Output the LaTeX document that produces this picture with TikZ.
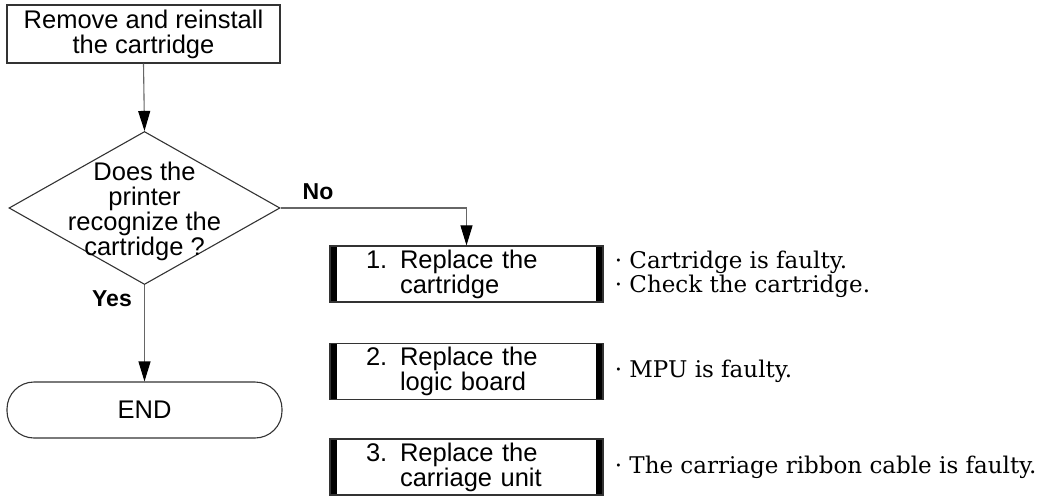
\documentclass[tikz,border=0pt]{standalone}
\usepackage{fontspec}
\setmainfont{DejaVu Serif}
\setsansfont{Liberation Sans}
\usetikzlibrary{arrows.meta, positioning, shapes.geometric}

\begin{document}
\begin{tikzpicture}[
    x=1pt, y=-1pt,
    sfont/.style={font=\sffamily\fontsize{25.5}{25}\selectfont},
    task/.style={rectangle, draw=black!80, line width=1.2pt, sfont,
                 minimum width=273pt, minimum height=58pt, align=center},
    stepbox/.style={rectangle, draw=black!80, line width=1.2pt, sfont,
                    minimum height=56pt, text width=201pt, inner xsep=36pt,
                    align=left,
                    path picture={
                      \fill (path picture bounding box.south west) rectangle
                        ([xshift=7pt]path picture bounding box.north west);
                      \fill (path picture bounding box.south east) rectangle
                        ([xshift=-7pt]path picture bounding box.north east);}},
    note/.style={align=left, inner sep=0pt, anchor=west,
                 font=\fontsize{23}{24}\selectfont},
    answer/.style={font=\sffamily\bfseries\fontsize{23}{24}\selectfont},
    arrow/.style={-{Triangle[length=20pt, width=12pt, color=black]},
                  line width=1.1pt, black!60}
  ]
    \useasboundingbox (0,0) rectangle (1048,497);

    % Flow on the left
    \node[task] (start) at (143.5,34) {Remove and reinstall\\the cartridge};
    \node[diamond, draw=black!80, line width=1.1pt, minimum width=271pt,
          minimum height=153pt, inner sep=0pt,
          label={[sfont, align=center, yshift=-3pt]center:Does the\\printer\\recognize the\\cartridge ?}]
          (check) at (144.5,208) {};
    \node[rectangle, draw=black!80, line width=1.1pt, rounded corners=27pt,
          minimum width=275pt, minimum height=56pt, sfont] (done) at (144.5,410) {END};

    % Steps on the right
    \node[stepbox] (s1) at (466.5,274) {1. Replace the\\\phantom{1. }cartridge};
    \node[stepbox] (s2) at (466.5,371.5) {2. Replace the\\\phantom{2. }logic board};
    \node[stepbox] (s3) at (466.5,467) {3. Replace the\\\phantom{3. }carriage unit};

    % Notes
    \node[note, right=11pt of s1] (n1) {· Cartridge is faulty.\\· Check the cartridge.};
    \node[note, right=11pt of s2] (n2) {· MPU is faulty.};
    \node[note, right=11pt of s3] (n3) {· The carriage ribbon cable is faulty.};

    % Answers
    \node[answer] (no) at (318,192) {No};
    \node[answer] (yes) at (112,299) {Yes};

    % Arrows
    \draw[arrow] (start.south) -- (check.north);
    \draw[arrow] (check.south) -- (done.north);
    \draw[arrow] (check.east) -| (s1.north);
  \end{tikzpicture}
\end{document}
